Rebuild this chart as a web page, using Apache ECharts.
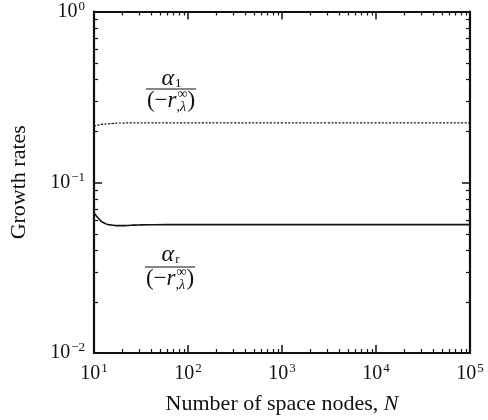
<!DOCTYPE html>
<html>
<head>
<meta charset="utf-8">
<script src="https://cdn.jsdelivr.net/npm/echarts@6/dist/echarts.min.js"></script>
<style>
  html, body { margin: 0; padding: 0; background: #fff; }
  #chart { width: 488px; height: 420px; }
</style>
</head>
<body>
<div id="chart"></div>
<script>
// Number of space nodes N (log scale)
const nodes = [10, 11, 12, 13, 14, 16, 18, 20, 25, 30, 40, 60, 100, 300, 1000, 3000, 10000, 30000, 100000];
// Growth rate alpha_1 / (-r_lambda) (dotted curve)
const alphaOne = [0.213, 0.216, 0.218, 0.219, 0.220, 0.221, 0.222, 0.222, 0.223, 0.223, 0.223, 0.223, 0.223, 0.223, 0.223, 0.223, 0.223, 0.223, 0.223];
// Growth rate alpha_r / (-r_lambda) (solid curve)
const alphaR = [0.066, 0.062, 0.059, 0.0575, 0.0566, 0.0560, 0.0557, 0.0557, 0.0560, 0.0562, 0.0564, 0.0565, 0.0565, 0.0565, 0.0565, 0.0565, 0.0565, 0.0565, 0.0565];
// Decade tick positions
const xTicks = [10, 100, 1000, 10000, 100000];
const yTicks = [0.01, 0.1, 1];

const SERIF = '"Liberation Serif", "Times New Roman", "DejaVu Serif", serif';
const INK = '#111';

// minor ticks at 2..9 within each decade
function minorTicks(decades) {
  const out = [];
  decades.forEach(function (d) {
    for (let m = 2; m <= 9; m++) out.push(+(m * d).toPrecision(6));
  });
  return out;
}
const xMinor = minorTicks([10, 100, 1000, 10000]);
const yMinor = minorTicks([0.01, 0.1]);

function powerLabel(v) {
  const e = Math.round(Math.log10(v));
  return '10{s|' + (e < 0 ? '\u2212' + (-e) : e) + '}';
}

const tickLabel = {
  fontFamily: SERIF, fontSize: 20, color: INK,
  rich: { s: { fontFamily: SERIF, fontSize: 13, color: INK, verticalAlign: 'top', padding: [0, 0, 10, 1] } }
};

// measuring text for the fraction labels
const mctx = document.createElement('canvas').getContext('2d');
function tw(txt, size, style) {
  mctx.font = (style || '') + ' ' + size + 'px ' + SERIF;
  return mctx.measureText(txt).width;
}

function fraction(cx, yNum, yBar, yDen, sub) {
  const els = [];
  const txt = function (x, y, s, size, style) {
    els.push({
      type: 'text', x: x, y: y,
      style: { text: s, fontFamily: SERIF, fontSize: size, fontStyle: style || 'normal',
               fill: INK, textAlign: 'left', textVerticalAlign: 'middle' }
    });
  };
  // numerator: alpha with subscript
  const wA = tw('\u03b1', 24, 'italic'), wS = tw(sub, 13);
  let x0 = cx - (wA + wS) / 2;
  txt(x0, yNum, '\u03b1', 24, 'italic');
  txt(x0 + wA + 1, yNum + 5, sub, 13);
  // denominator: (-r^inf_{,lambda})
  const p1 = '(\u2212', wP1 = tw(p1, 23), wR = tw('r', 23, 'italic');
  const wInf = tw('\u221e', 14), wLam = tw(',\u03bb', 14, 'italic');
  const wSS = Math.max(wInf, wLam), wP2 = tw(')', 23);
  const total = wP1 + wR + wSS + wP2 + 1;
  x0 = cx - total / 2;
  txt(x0, yDen, p1, 23);
  txt(x0 + wP1, yDen, 'r', 23, 'italic');
  txt(x0 + wP1 + wR + 1, yDen - 7, '\u221e', 14);
  txt(x0 + wP1 + wR, yDen + 6, ',\u03bb', 14, 'italic');
  txt(x0 + wP1 + wR + wSS + 1, yDen, ')', 23);
  els.push({
    type: 'line',
    shape: { x1: x0 - 1, y1: yBar, x2: x0 + total + 1, y2: yBar },
    style: { stroke: INK, lineWidth: 1.2 }
  });
  return els;
}

function minorTickSeries(axisDim, values) {
  return {
    type: 'custom',
    silent: true,
    xAxisIndex: 0, yAxisIndex: 0,
    data: values.map(function (v) { return axisDim === 'x' ? [v, 0.1] : [100, v]; }),
    renderItem: function (params, api) {
      const cs = params.coordSys;
      const st = { stroke: INK, lineWidth: 1.2 };
      const L = 4;
      if (axisDim === 'x') {
        const x = Math.round(api.coord([api.value(0), 0.1])[0]) + 0.5;
        return { type: 'group', children: [
          { type: 'line', shape: { x1: x, y1: cs.y + cs.height, x2: x, y2: cs.y + cs.height - L }, style: st },
          { type: 'line', shape: { x1: x, y1: cs.y, x2: x, y2: cs.y + L }, style: st }
        ] };
      }
      const y = Math.round(api.coord([100, api.value(1)])[1]) + 0.5;
      return { type: 'group', children: [
        { type: 'line', shape: { x1: cs.x, y1: y, x2: cs.x + L, y2: y }, style: st },
        { type: 'line', shape: { x1: cs.x + cs.width, y1: y, x2: cs.x + cs.width - L, y2: y }, style: st }
      ] };
    },
    z: 5
  };
}

const axisLineStyle = { show: true, lineStyle: { color: INK, width: 2.2 } };
const majorTick = { show: true, inside: true, length: 8, lineStyle: { color: INK, width: 1.5 } };

const chart = echarts.init(document.getElementById('chart'), null, { renderer: 'canvas' });
chart.setOption({
  animation: false,
  backgroundColor: '#fff',
  grid: { left: 92, right: 18, top: 11, bottom: 61 },
  xAxis: [
    {
      type: 'log', logBase: 10, min: xTicks[0], max: xTicks[xTicks.length - 1], splitNumber: 4,
      axisLine: axisLineStyle, axisTick: majorTick, splitLine: { show: false },
      axisLabel: Object.assign({ margin: 9, formatter: powerLabel }, tickLabel),
      name: '{t|Number of space nodes, }{i|N}',
      nameLocation: 'middle', nameGap: 40,
      nameTextStyle: {
        rich: {
          t: { fontFamily: SERIF, fontSize: 22, color: INK },
          i: { fontFamily: SERIF, fontSize: 22, color: INK, fontStyle: 'italic' }
        }
      }
    },
    {
      type: 'log', logBase: 10, min: xTicks[0], max: xTicks[xTicks.length - 1], splitNumber: 4,
      position: 'top', axisLine: axisLineStyle, axisTick: majorTick,
      axisLabel: { show: false }, splitLine: { show: false }
    }
  ],
  yAxis: [
    {
      type: 'log', logBase: 10, min: yTicks[0], max: yTicks[yTicks.length - 1], splitNumber: 2,
      axisLine: axisLineStyle, axisTick: majorTick, splitLine: { show: false },
      axisLabel: Object.assign({ margin: 9, formatter: powerLabel }, tickLabel),
      name: 'Growth rates', nameLocation: 'middle', nameGap: 64,
      nameTextStyle: { fontFamily: SERIF, fontSize: 22, color: INK }
    },
    {
      type: 'log', logBase: 10, min: yTicks[0], max: yTicks[yTicks.length - 1], splitNumber: 2,
      position: 'right', axisLine: axisLineStyle, axisTick: majorTick,
      axisLabel: { show: false }, splitLine: { show: false }
    }
  ],
  series: [
    {
      type: 'line', name: 'alpha1', xAxisIndex: 0, yAxisIndex: 0,
      data: nodes.map(function (n, i) { return [n, alphaOne[i]]; }),
      smooth: true, showSymbol: false,
      lineStyle: { color: INK, width: 1.3, type: [2, 1.6] }
    },
    {
      type: 'line', name: 'alphar', xAxisIndex: 0, yAxisIndex: 0,
      data: nodes.map(function (n, i) { return [n, alphaR[i]]; }),
      smooth: true, showSymbol: false,
      lineStyle: { color: INK, width: 1.6 }
    },
    minorTickSeries('x', xMinor),
    minorTickSeries('y', yMinor)
  ],
  graphic: [
    { type: 'group', children: fraction(171, 79, 89, 101, '1') },
    { type: 'group', children: fraction(170, 255, 267, 279, 'r') }
  ]
});
</script>
</body>
</html>
